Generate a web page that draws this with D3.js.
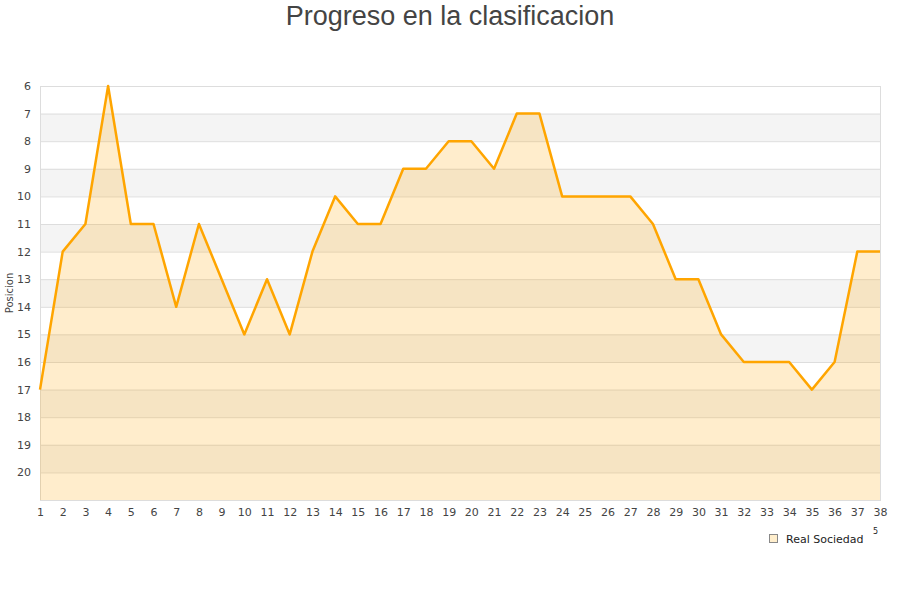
<!DOCTYPE html>
<html>
<head>
<meta charset="utf-8">
<script src="https://cdn.jsdelivr.net/npm/d3@7"></script>
<style>
    body { margin: 0; background: #fff; }
    svg { display: block; }
</style>
</head>
<body>
<div id="chart"></div>
<script>
// Data
const jornadas = d3.range(1, 39);
const posiciones = [
    17, 12, 11, 6, 11, 11, 14, 11, 13, 15,
    13, 15, 12, 10, 11, 11, 9, 9, 8, 8,
    9, 7, 7, 10, 10, 10, 10, 11, 13, 13,
    15, 16, 16, 16, 17, 16, 12, 12,
];
const yTicks = d3.range(6, 21);
const teamName = 'Real Sociedad';
const titleText = 'Progreso en la clasificacion';

const width = 900;
const height = 600;
const margin = { top: 86, right: 20, bottom: 100, left: 40 };

const svg = d3.select('#chart')
    .append('svg')
        .attr('width', width)
        .attr('height', height);

const x = d3.scaleLinear()
    .domain([1, 38])
    .range([margin.left, width - margin.right]);

const y = d3.scaleLinear()
    .domain([6, 21])
    .range([margin.top, height - margin.bottom]);

// alternating bands
const bands = d3.range(7, 21, 2);
svg.append('g')
    .selectAll('rect')
    .data(bands)
    .join('rect')
        .attr('x', x(1))
        .attr('width', x(38) - x(1))
        .attr('y', d => y(d))
        .attr('height', d => y(d + 1) - y(d))
        .attr('fill', '#f4f4f4');

// grid lines
svg.append('g')
    .selectAll('line')
    .data(d3.range(6, 22))
    .join('line')
        .attr('x1', x(1))
        .attr('x2', x(38))
        .attr('y1', d => y(d) + 0.5)
        .attr('y2', d => y(d) + 0.5)
        .attr('stroke', '#dddddd');

// plot border
svg.append('rect')
    .attr('x', x(1) + 0.5)
    .attr('y', y(6) + 0.5)
    .attr('width', x(38) - x(1))
    .attr('height', y(21) - y(6))
    .attr('fill', 'none')
    .attr('stroke', '#dddddd');

const points = jornadas.map((j, i) => [j, posiciones[i]]);

const area = d3.area()
    .x(d => x(d[0]))
    .y0(y(21))
    .y1(d => y(d[1]));

const line = d3.line()
    .x(d => x(d[0]))
    .y(d => y(d[1]));

svg.append('path')
    .datum(points)
    .attr('d', area)
    .attr('fill', '#ffa500')
    .attr('fill-opacity', 0.2);

svg.append('path')
    .datum(points)
    .attr('d', line)
    .attr('fill', 'none')
    .attr('stroke', '#ffa500')
    .attr('stroke-width', 2.5)
    .attr('stroke-linejoin', 'round');

// axes
const font = 'DejaVu Sans, sans-serif';

const yAxis = svg.append('g')
    .attr('transform', `translate(${x(1) - 9},0)`)
    .call(d3.axisLeft(y).tickValues(yTicks).tickSize(0).tickPadding(0));
yAxis.select('.domain').remove();
yAxis.selectAll('text')
    .attr('font-family', font)
    .attr('font-size', 11)
    .attr('fill', '#444');

const xAxis = svg.append('g')
    .attr('transform', `translate(0,${y(21) + 8})`)
    .call(d3.axisBottom(x).tickValues(jornadas).tickFormat(d3.format('d')).tickSize(0).tickPadding(0));
xAxis.select('.domain').remove();
xAxis.selectAll('text')
    .attr('font-family', font)
    .attr('font-size', 11)
    .attr('fill', '#444');

svg.append('text')
    .attr('transform', `translate(13,${(y(6) + y(21)) / 2}) rotate(-90)`)
    .attr('text-anchor', 'middle')
    .attr('font-family', font)
    .attr('font-size', 10)
    .attr('fill', '#444')
    .text('Posicion');

svg.append('text')
    .attr('x', width / 2)
    .attr('y', 25)
    .attr('text-anchor', 'middle')
    .attr('font-family', 'Liberation Sans, Arial, sans-serif')
    .attr('font-size', 27)
    .attr('fill', '#444')
    .text(titleText);

// legend
const legend = svg.append('g').attr('transform', 'translate(769,534)');
legend.append('rect')
    .attr('x', 0.5)
    .attr('y', 0.5)
    .attr('width', 8)
    .attr('height', 8)
    .attr('fill', '#ffeecc')
    .attr('stroke', '#888');
legend.append('text')
    .attr('x', 17)
    .attr('y', 8.5)
    .attr('font-family', font)
    .attr('font-size', 11)
    .attr('fill', '#222')
    .text(teamName);
legend.append('text')
    .attr('x', 104)
    .attr('y', 0)
    .attr('font-family', font)
    .attr('font-size', 8)
    .attr('fill', '#222')
    .text('5');
</script>
</body>
</html>
